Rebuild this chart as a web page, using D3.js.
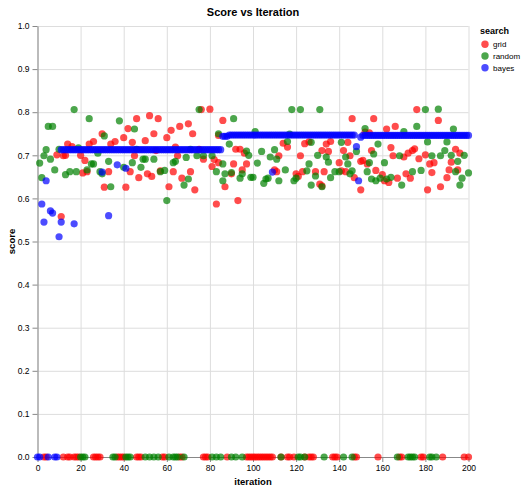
<!DOCTYPE html>
<html>
<head>
<meta charset="utf-8">
<script src="https://cdn.jsdelivr.net/npm/d3@7"></script>
<style>
  body { margin: 0; background: #fff; }
  text { font-family: "Liberation Sans", Arial, Helvetica, sans-serif; }
</style>
</head>
<body>
<svg id="chart" width="527" height="489"></svg>
<script>
// series: [iteration, score]
var gridPoints = [
  [46,0.785],[42,0.762],[30,0.750],[40,0.741],[26,0.732],[24,0.726],[36,0.732],[34,0.726],[44,0.730],
  [14,0.726],[16,0.720],[9,0.701],[12,0.699],[13,0.700],[20,0.700],[22,0.688],[21,0.659],[23,0.662],
  [33,0.662],[31,0.626],[41,0.626],[43,0.662],[45,0.699],[47,0.648],[50,0.734],[11,0.558],
  [52,0.792],[56,0.785],[54,0.750],[62,0.758],[66,0.767],[70,0.773],[60,0.741],[72,0.750],[76,0.806],
  [80,0.807],[86,0.781],[84,0.746],[51,0.657],[53,0.651],[57,0.664],[63,0.662],[61,0.627],[67,0.647],
  [71,0.662],[73,0.620],[65,0.699],[64,0.719],[75,0.714],[77,0.691],[82,0.690],[84,0.683],[81,0.674],
  [83,0.587],[87,0.627],[90,0.657],[91,0.680],[92,0.714],[94,0.714],[96,0.705],[97,0.680],[95,0.666],
  [93,0.595],[55,0.711],
  [146,0.785],[114,0.728],[116,0.719],[112,0.699],[110,0.666],[111,0.662],[122,0.699],[124,0.727],
  [126,0.731],[123,0.662],[120,0.657],[121,0.651],[129,0.662],[133,0.662],[131,0.633],[132,0.629],
  [132,0.711],[134,0.726],[136,0.732],[135,0.709],[140,0.683],[142,0.711],[144,0.730],[145,0.699],
  [141,0.664],[143,0.662],[147,0.648],[150,0.620],[150,0.686],
  [156,0.785],[162,0.761],[166,0.767],[176,0.806],[186,0.781],[152,0.754],[154,0.752],[155,0.711],
  [151,0.688],[153,0.680],[157,0.665],[160,0.655],[161,0.641],[163,0.637],[164,0.718],[165,0.699],
  [167,0.647],[170,0.696],[172,0.705],[174,0.711],[175,0.715],[171,0.657],[173,0.647],[177,0.692],
  [180,0.701],[182,0.680],[184,0.683],[183,0.660],[181,0.620],[187,0.627],[190,0.648],[191,0.666],
  [192,0.684],[194,0.714],[196,0.705],[195,0.666]
];
var gridZeroIters = [3,4,12,14,15,17,18,19,26,27,28,29,37,38,39,40,46,47,48,58,59,66,67,77,78,79,88,
  97,98,99,100,101,102,103,104,105,106,107,108,109,113,116,117,119,124,126,127,128,137,138,139,147,148,
  158,168,169,178,179,188,198,200];

var randomPoints = [
  [17,0.806],[24,0.785],[5,0.767],[7,0.767],[38,0.780],[45,0.761],[4,0.713],[3,0.699],[6,0.691],
  [1,0.682],[8,0.666],[2,0.648],[10,0.714],[13,0.655],[15,0.662],[18,0.662],[19,0.717],[23,0.666],
  [25,0.680],[26,0.680],[28,0.705],[29,0.662],[30,0.657],[33,0.686],[31,0.745],[34,0.627],[40,0.672],
  [44,0.683],[48,0.672],[49,0.691],[46,0.714],
  [75,0.806],[91,0.785],[84,0.750],[89,0.726],[50,0.691],[54,0.691],[59,0.665],[63,0.683],[64,0.686],
  [69,0.695],[71,0.714],[74,0.699],[77,0.699],[81,0.699],[83,0.662],[86,0.680],[70,0.645],[68,0.631],
  [60,0.595],[87,0.657],[90,0.660],[86,0.641],[94,0.647],[95,0.657],[97,0.710],[98,0.700],[99,0.649],
  [57,0.662],
  [118,0.806],[122,0.806],[131,0.806],[101,0.755],[117,0.749],[116,0.732],[104,0.709],[110,0.713],
  [108,0.696],[111,0.691],[102,0.682],[115,0.666],[100,0.649],[105,0.635],[106,0.645],[107,0.647],
  [112,0.641],[119,0.641],[120,0.647],[125,0.664],[126,0.680],[127,0.730],[130,0.700],[127,0.631],
  [129,0.652],[132,0.627],[134,0.696],[135,0.684],[136,0.648],[138,0.662],[140,0.662],[141,0.730],
  [143,0.696],[144,0.680],[146,0.664],[145,0.657],[148,0.709],
  [180,0.806],[186,0.807],[176,0.767],[193,0.761],[152,0.762],[170,0.755],[158,0.726],[181,0.731],
  [190,0.731],[156,0.703],[168,0.699],[154,0.683],[161,0.683],[153,0.662],[155,0.645],[157,0.641],
  [159,0.647],[162,0.645],[164,0.649],[169,0.631],[174,0.662],[178,0.665],[183,0.699],[187,0.699],
  [189,0.711],[192,0.700],[195,0.686],[198,0.700],[194,0.662],[200,0.659],[197,0.647],[196,0.631]
];
var randomZeroIters = [20,21,22,35,36,41,42,43,50,52,54,56,61,63,64,65,68,81,83,85,90,92,95,
  113,121,122,124,133,142,146,167,172,173,174,175,182,183,185];

var bayesPoints = [
  [2,0.587],[3,0.545],[4,0.641],[6,0.571],[7,0.566],[10,0.511],[11,0.545],[17,0.541],[30,0.661],
  [33,0.560],[37,0.678],[41,0.670],[109,0.661],[148,0.720],[149,0.641]
];
// runs of consecutive iterations sitting at the same score: [from, to, score]
var bayesRuns = [[11,85,0.713],[86,88,0.744],[89,147,0.747],[150,150,0.742],[151,200,0.746]];
var bayesZeroIters = [0,1,5,8,9];

var searchNames = ["grid", "random", "bayes"];
var searchColors = ["#ff0000", "#008000", "#0000ff"];
var xTicks = [0,20,40,60,80,100,120,140,160,180,200];
var yTicks = [0,0.1,0.2,0.3,0.4,0.5,0.6,0.7,0.8,0.9,1.0];

(function () {
  var rows = [];
  gridPoints.forEach(function (p) { rows.push({ search: "grid", iteration: p[0], score: p[1] }); });
  gridZeroIters.forEach(function (i) { rows.push({ search: "grid", iteration: i, score: 0 }); });
  randomPoints.forEach(function (p) { rows.push({ search: "random", iteration: p[0], score: p[1] }); });
  randomZeroIters.forEach(function (i) { rows.push({ search: "random", iteration: i, score: 0 }); });
  bayesPoints.forEach(function (p) { rows.push({ search: "bayes", iteration: p[0], score: p[1] }); });
  bayesZeroIters.forEach(function (i) { rows.push({ search: "bayes", iteration: i, score: 0 }); });
  bayesRuns.forEach(function (r) {
    for (var i = r[0]; i <= r[1]; i++) rows.push({ search: "bayes", iteration: i, score: r[2] });
  });

  var svg = d3.select("#chart");
  var plotLeft = 37.5, plotTop = 26, width = 431, height = 431;

  var x = d3.scaleLinear().domain([0, 200]).range([plotLeft, plotLeft + width]);
  var y = d3.scaleLinear().domain([0, 1]).range([plotTop + height, plotTop]);
  var color = d3.scaleOrdinal().domain(searchNames).range(searchColors);

  // grid lines
  svg.append("g")
    .attr("transform", "translate(0," + (plotTop + height) + ")")
    .call(d3.axisBottom(x).tickValues(xTicks).tickSize(-height).tickFormat(""))
    .call(function (g) { g.select(".domain").remove(); })
    .selectAll("line").attr("stroke", "#ddd");
  svg.append("g")
    .attr("transform", "translate(" + plotLeft + ",0)")
    .call(d3.axisLeft(y).tickValues(yTicks).tickSize(-width).tickFormat(""))
    .call(function (g) { g.select(".domain").remove(); })
    .selectAll("line").attr("stroke", "#ddd");

  // axes
  var xAxis = svg.append("g")
    .attr("transform", "translate(0," + (plotTop + height) + ")")
    .call(d3.axisBottom(x).tickValues(xTicks).tickSize(5).tickPadding(3).tickSizeOuter(0));
  var yAxis = svg.append("g")
    .attr("transform", "translate(" + plotLeft + ",0)")
    .call(d3.axisLeft(y).tickValues(yTicks).tickFormat(d3.format(".1f")).tickSize(5).tickPadding(3).tickSizeOuter(0));
  [xAxis, yAxis].forEach(function (g) {
    g.selectAll(".domain, line").attr("stroke", "#888");
    g.attr("font-family", null).attr("font-size", null);
    g.selectAll("text").attr("fill", "#000").style("font-size", "8.5px");
  });

  svg.selectAll("circle.pt")
    .data(rows)
    .enter()
    .append("circle")
    .attr("class", "pt")
    .attr("cx", function (d) { return x(d.iteration); })
    .attr("cy", function (d) { return y(d.score); })
    .attr("r", 3.6)
    .attr("fill", function (d) { return color(d.search); })
    .attr("fill-opacity", 0.7);

  // titles
  svg.append("text").attr("x", plotLeft + width / 2).attr("y", 16)
    .attr("text-anchor", "middle").style("font-size", "11px").style("font-weight", "bold")
    .text("Score vs Iteration");
  svg.append("text").attr("x", plotLeft + width / 2).attr("y", 485)
    .attr("text-anchor", "middle").style("font-size", "9.5px").style("font-weight", "bold")
    .text("iteration");
  svg.append("text").attr("transform", "translate(15," + (plotTop + height / 2) + ") rotate(-90)")
    .attr("text-anchor", "middle").style("font-size", "9.5px").style("font-weight", "bold")
    .text("score");

  // legend
  var legend = svg.append("g").attr("transform", "translate(480,0)");
  legend.append("text").attr("x", 0).attr("y", 34)
    .style("font-size", "9px").style("font-weight", "bold").text("search");
  var items = legend.selectAll("g.item").data(searchNames).enter().append("g")
    .attr("transform", function (d, i) { return "translate(0," + (44.3 + i * 11.7) + ")"; });
  items.append("circle").attr("cx", 5).attr("cy", 0).attr("r", 3.7)
    .attr("fill", function (d) { return color(d); }).attr("fill-opacity", 0.7);
  items.append("text").attr("x", 13).attr("y", 3).style("font-size", "8px").text(function (d) { return d; });
})();
</script>
</body>
</html>
